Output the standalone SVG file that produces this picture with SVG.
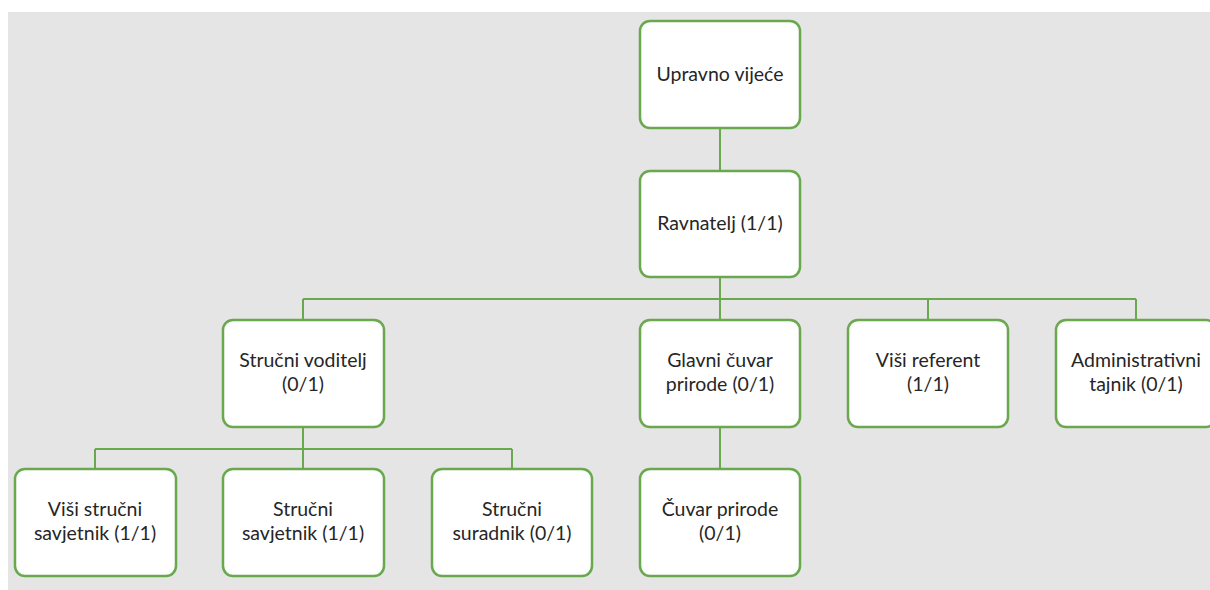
<svg xmlns="http://www.w3.org/2000/svg" width="1210" height="590" viewBox="0 0 1210 590">
<style>
.box{fill:#ffffff;stroke:#6aa84f;stroke-width:2.5}
.t{font-family:Lato,"Open Sans","Liberation Sans",sans-serif;font-size:19.5px;fill:#262626;text-anchor:middle}
.c{fill:none;stroke:#6aa84f;stroke-width:2}
</style>
<rect x="8" y="12" width="1202" height="578" fill="#e5e5e5"/>
<g id="connectors">
<path class="c" d="M720 128V171"/>
<path class="c" d="M720 277V299M303 299H1136M303 299V320M720 299V320M928 299V320M1136 299V320"/>
<path class="c" d="M303 427V449M95 449H512M95 449V469M303 449V469M512 449V469"/>
<path class="c" d="M720 427V469"/>
</g>
<g id="upravno"><rect class="box" x="640" y="21" width="160" height="107" rx="10"/><text class="t" x="720" y="81">Upravno vijeće</text></g>
<g id="ravnatelj"><rect class="box" x="640" y="171" width="160" height="106" rx="10"/><text class="t" x="720" y="230">Ravnatelj (1/1)</text></g>
<g id="strucni-voditelj"><rect class="box" x="223" y="320" width="161" height="107" rx="10"/><text class="t" x="303" y="367">Stručni voditelj</text><text class="t" x="303" y="391">(0/1)</text></g>
<g id="glavni-cuvar"><rect class="box" x="640" y="320" width="160" height="107" rx="10"/><text class="t" x="720" y="367">Glavni čuvar</text><text class="t" x="720" y="391">prirode (0/1)</text></g>
<g id="visi-referent"><rect class="box" x="848" y="320" width="160" height="107" rx="10"/><text class="t" x="928" y="367">Viši referent</text><text class="t" x="928" y="391">(1/1)</text></g>
<g id="administrativni"><rect class="box" x="1056" y="320" width="160" height="107" rx="10"/><text class="t" x="1136" y="367">Administrativni</text><text class="t" x="1136" y="391">tajnik (0/1)</text></g>
<g id="visi-strucni"><rect class="box" x="15" y="469" width="161" height="107" rx="10"/><text class="t" x="95" y="516">Viši stručni</text><text class="t" x="95" y="540">savjetnik (1/1)</text></g>
<g id="strucni-savjetnik"><rect class="box" x="223" y="469" width="161" height="107" rx="10"/><text class="t" x="303" y="516">Stručni</text><text class="t" x="303" y="540">savjetnik (1/1)</text></g>
<g id="strucni-suradnik"><rect class="box" x="432" y="469" width="160" height="107" rx="10"/><text class="t" x="512" y="516">Stručni</text><text class="t" x="512" y="540">suradnik (0/1)</text></g>
<g id="cuvar"><rect class="box" x="640" y="469" width="160" height="107" rx="10"/><text class="t" x="720" y="516">Čuvar prirode</text><text class="t" x="720" y="540">(0/1)</text></g>
</svg>
